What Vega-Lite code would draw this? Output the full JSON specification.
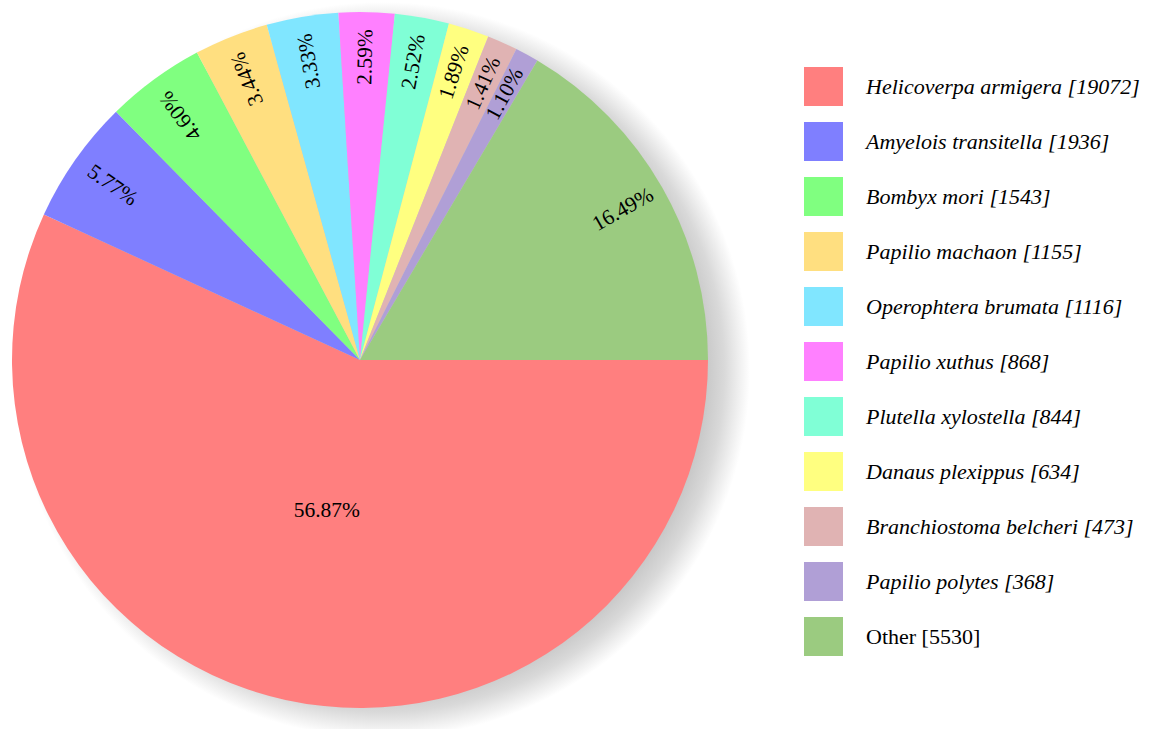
{
  "$schema": "https://vega.github.io/schema/vega-lite/v6.json",
  "width": 720,
  "height": 720,
  "padding": 0,
  "autosize": {"type": "pad"},
  "background": "white",
  "config": {"view": {"stroke": null}, "font": "'Liberation Serif', 'Times New Roman', Times, serif"},
  "data": {
    "values": [
      {"species": "Helicoverpa armigera", "count": 19072},
      {"species": "Amyelois transitella", "count": 1936},
      {"species": "Bombyx mori", "count": 1543},
      {"species": "Papilio machaon", "count": 1155},
      {"species": "Operophtera brumata", "count": 1116},
      {"species": "Papilio xuthus", "count": 868},
      {"species": "Plutella xylostella", "count": 844},
      {"species": "Danaus plexippus", "count": 634},
      {"species": "Branchiostoma belcheri", "count": 473},
      {"species": "Papilio polytes", "count": 368},
      {"species": "Other", "count": 5530}
    ]
  },
  "transform": [
    {"window": [{"op": "sum", "field": "count", "as": "cumEnd"}], "frame": [null, 0]},
    {"joinaggregate": [{"op": "sum", "field": "count", "as": "total"}]},
    {"calculate": "datum.count / datum.total", "as": "pct"},
    {"calculate": "(datum.cumEnd - datum.count) / datum.total", "as": "start"},
    {"calculate": "datum.cumEnd / datum.total", "as": "end"},
    {"calculate": "(datum.start + datum.end) / 2", "as": "mid"},
    {"calculate": "(90 + datum.mid * 360) % 360", "as": "midDeg"},
    {"calculate": "datum.midDeg > 180 && datum.midDeg < 315 ? datum.midDeg + 90 : datum.midDeg - 90", "as": "labelAngle"},
    {"calculate": "datum.species + ' [' + datum.count + ']'", "as": "legendLabel"}
  ],
  "layer": [
    {
      "transform": [{"aggregate": [{"op": "sum", "field": "count", "as": "all"}]}],
      "mark": {
        "type": "arc",
        "theta": 0,
        "theta2": 6.2832,
        "outerRadius": 368,
        "xOffset": 22,
        "yOffset": 10,
        "fill": {
          "gradient": "radial",
          "x1": 0.5, "y1": 0.5, "r1": 0,
          "x2": 0.5, "y2": 0.5, "r2": 0.5,
          "stops": [
            {"offset": 0, "color": "#c8c8c8"},
            {"offset": 0.88, "color": "#c8c8c8"},
            {"offset": 0.93, "color": "#d9d9d9"},
            {"offset": 0.97, "color": "#efefef"},
            {"offset": 1, "color": "#ffffff"}
          ]
        }
      },
      "encoding": {}
    },
    {
      "mark": {"type": "arc", "outerRadius": 348, "strokeWidth": 0},
      "encoding": {
        "theta": {"field": "start", "type": "quantitative", "scale": {"domain": [0, 1], "range": [1.5707963, 7.8539816]}},
        "theta2": {"field": "end"},
        "color": {
          "field": "legendLabel",
          "type": "nominal",
          "sort": null,
          "scale": {"range": ["#FF7F7F", "#7F7FFF", "#80FF80", "#FFDF80", "#80E6FF", "#FF80FF", "#80FFD6", "#FFFF80", "#E0B3B3", "#B09FD6", "#9BCB80"]},
          "legend": {
            "title": null,
            "orient": "none",
            "legendX": 804,
            "legendY": 67,
            "symbolType": "square",
            "symbolSize": 1521,
            "symbolStrokeWidth": 0,
            "symbolOpacity": 1,
            "labelFont": "'Liberation Serif', 'Times New Roman', Times, serif",
            "labelFontSize": 22,
            "labelColor": "black",
            "labelOffset": 23,
            "labelLimit": 500,
            "rowPadding": 16,
            "encode": {"labels": {"update": {"fontStyle": {"signal": "datum.value === 'Other [5530]' ? 'normal' : 'italic'"}}}}
          }
        }
      }
    },
    {
      "transform": [{"filter": "datum.pct < 0.5"}],
      "mark": {"type": "text", "radius": 303, "font": "'Liberation Serif', 'Times New Roman', Times, serif", "fontSize": 21.5, "color": "black", "align": "center", "baseline": "middle"},
      "encoding": {
        "theta": {"field": "mid", "type": "quantitative", "stack": null, "scale": {"domain": [0, 1], "range": [1.5707963, 7.8539816]}},
        "angle": {"field": "labelAngle", "type": "quantitative", "scale": null},
        "text": {"field": "pct", "type": "quantitative", "format": ".2%"}
      }
    },
    {
      "transform": [{"filter": "datum.pct >= 0.5"}],
      "mark": {"type": "text", "radius": 155, "font": "'Liberation Serif', 'Times New Roman', Times, serif", "fontSize": 21.5, "color": "black", "align": "center", "baseline": "middle"},
      "encoding": {
        "theta": {"field": "mid", "type": "quantitative", "stack": null, "scale": {"domain": [0, 1], "range": [1.5707963, 7.8539816]}},
        "text": {"field": "pct", "type": "quantitative", "format": ".2%"}
      }
    }
  ]
}
